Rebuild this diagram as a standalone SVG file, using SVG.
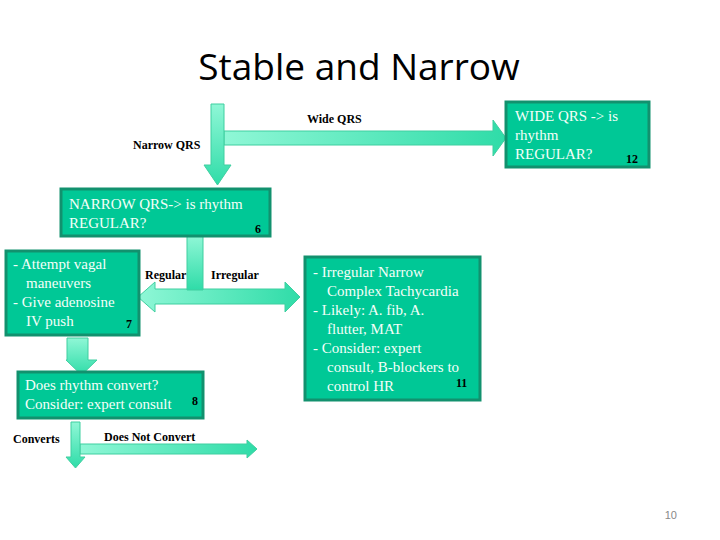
<svg xmlns="http://www.w3.org/2000/svg" width="720" height="540" viewBox="0 0 720 540">
<defs>
<linearGradient id="gv" x1="0" y1="0" x2="0" y2="1"><stop offset="0" stop-color="#8ff7d6"/><stop offset="1" stop-color="#2fdca8"/></linearGradient>
<linearGradient id="gh" x1="0" y1="0" x2="1" y2="0"><stop offset="0" stop-color="#8ff7d6"/><stop offset="1" stop-color="#2fdca8"/></linearGradient>
</defs>
<style>
.box{fill:#00c896;stroke:#12916e;stroke-width:3}
.bt{font-family:"Liberation Serif",serif;font-size:15px;fill:#f4fff9}
.num{font-family:"Liberation Serif",serif;font-size:12px;font-weight:bold;fill:#000}
.lab{font-family:"Liberation Serif",serif;font-size:12px;font-weight:bold;fill:#000}
.av{fill:url(#gv);stroke:#3fcfa0;stroke-width:1}
.ah{fill:url(#gh);stroke:#3fcfa0;stroke-width:1}
</style>
<rect width="720" height="540" fill="#fff"/>
<text x="359" y="80" text-anchor="middle" font-family="Open Sans, Liberation Sans, sans-serif" font-size="37" fill="#000">Stable and Narrow</text>
<g id="connectors">
<path class="ah" d="M224,131 H493 V120 L506,138 L493,156 V145 H224 Z"/>
<path class="av" d="M211,104 H224 V165 H231 L217.5,185 L204,165 H211 Z"/>
<path class="ah" d="M155,289 H285 V282 L300,297 L285,312 V304 H155 V312 L138,297 L155,282 Z"/>
<path class="av" d="M187,236 H203 V290 H187 Z"/>
<path class="av" d="M67,338 H88 V360 H97 L81.5,375 L66,360 H67 Z"/>
<path class="ah" d="M80,444 H247 V440 L257,449 L247,458 V454 H80 Z"/>
<path class="av" d="M71,422 H80 V457 H85 L75.5,468 L66,457 H71 Z"/>
<text class="lab" x="307" y="123">Wide QRS</text>
<text class="lab" x="133" y="149">Narrow QRS</text>
<text class="lab" x="145" y="279">Regular</text>
<text class="lab" x="211" y="279">Irregular</text>
<text class="lab" x="13" y="443">Converts</text>
<text class="lab" x="104" y="441">Does Not Convert</text>
</g>
<g id="n12"><rect class="box" x="506" y="102" width="143" height="65"/>
<text class="bt" x="515" y="121">WIDE QRS -&gt; is</text><text class="bt" x="515" y="140">rhythm</text><text class="bt" x="515" y="159">REGULAR?</text><text class="num" x="626" y="163">12</text></g>
<g id="n6"><rect class="box" x="61" y="189" width="209" height="47"/>
<text class="bt" x="69" y="209">NARROW QRS-&gt; is rhythm</text><text class="bt" x="69" y="228">REGULAR?</text><text class="num" x="255" y="233">6</text></g>
<g id="n7"><rect class="box" x="6" y="251" width="133" height="84"/>
<text class="bt" x="13" y="269">-  Attempt vagal</text><text class="bt" x="26" y="288">maneuvers</text><text class="bt" x="13" y="307">-  Give adenosine</text><text class="bt" x="26" y="326">IV push</text><text class="num" x="126" y="328">7</text></g>
<g id="n8"><rect class="box" x="18" y="372" width="185" height="46"/>
<text class="bt" x="25" y="390">Does rhythm convert?</text><text class="bt" x="25" y="409">Consider: expert consult</text><text class="num" x="192" y="405">8</text></g>
<g id="n11"><rect class="box" x="305" y="257" width="175" height="143"/>
<text class="bt" x="313" y="277">-  Irregular Narrow</text><text class="bt" x="327" y="296">Complex Tachycardia</text><text class="bt" x="313" y="315">-  Likely: A. fib, A.</text><text class="bt" x="327" y="334">flutter, MAT</text><text class="bt" x="313" y="353">-  Consider: expert</text><text class="bt" x="327" y="372">consult, B-blockers to</text><text class="bt" x="327" y="391">control HR</text><text class="num" x="456" y="387">11</text></g>
<text x="677" y="519" text-anchor="end" font-family="Liberation Sans, sans-serif" font-size="11" fill="#888">10</text>
</svg>
